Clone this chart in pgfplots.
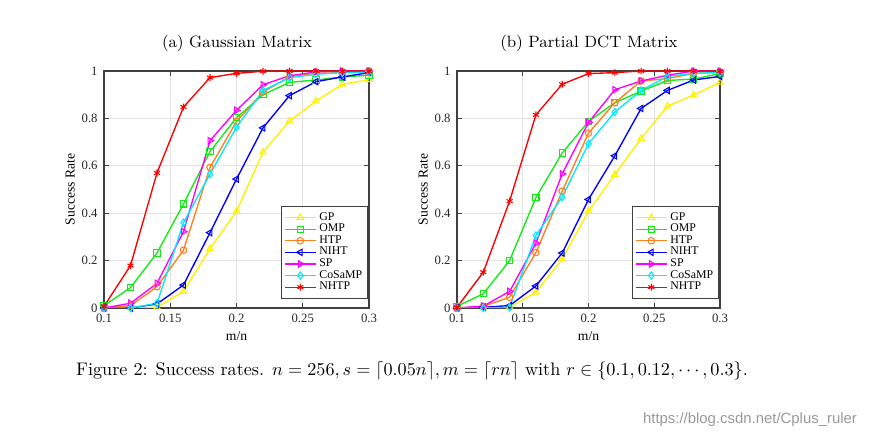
\documentclass[border=0pt]{standalone}
\usepackage{pgfplots}
\pgfplotsset{compat=1.18}
\usepackage{pgfplotstable}
\usepackage{fontspec}
\newfontfamily\tms{Liberation Serif}
\newfontfamily\wm{Liberation Sans}
\usetikzlibrary{plotmarks}

\definecolor{cGP}{RGB}{255,240,0}
\definecolor{cOMP}{RGB}{20,235,20}
\definecolor{cHTP}{RGB}{255,128,30}
\definecolor{cNIHT}{RGB}{0,0,255}
\definecolor{cSP}{RGB}{255,0,255}
\definecolor{cCo}{RGB}{0,235,255}
\definecolor{cNH}{RGB}{255,0,0}

\pgfplotstableread{
x    GP    OMP   HTP   NIHT  SP    Co    NH
0.10 0     0.010 0     0     0     0     0.007
0.12 0     0.086 0.010 0     0.020 0     0.179
0.14 0.003 0.232 0.090 0.017 0.104 0.020 0.570
0.16 0.070 0.439 0.244 0.097 0.322 0.360 0.848
0.18 0.250 0.660 0.593 0.318 0.706 0.565 0.972
0.20 0.408 0.803 0.787 0.544 0.834 0.763 0.990
0.22 0.658 0.900 0.911 0.760 0.942 0.918 0.999
0.24 0.789 0.952 0.975 0.896 0.980 0.972 1
0.26 0.873 0.962 0.990 0.955 0.996 0.986 1
0.28 0.944 0.975 0.993 0.975 1     0.993 1
0.30 0.963 0.982 1     0.993 1     0.996 1
}\dataA

\pgfplotstableread{
x    GP    OMP   HTP   NIHT  SP    Co    NH
0.10 0     0.007 0     0     0     0     0.003
0.12 0     0.060 0.007 0.003 0.008 0     0.151
0.14 0.003 0.200 0.045 0.010 0.070 0.003 0.451
0.16 0.066 0.466 0.234 0.093 0.273 0.306 0.815
0.18 0.207 0.654 0.493 0.232 0.566 0.468 0.944
0.20 0.408 0.787 0.738 0.458 0.783 0.693 0.989
0.22 0.563 0.866 0.866 0.642 0.921 0.827 0.993
0.24 0.715 0.915 0.958 0.842 0.958 0.918 1
0.26 0.851 0.960 0.968 0.918 0.982 0.977 1
0.28 0.899 0.966 0.990 0.962 1     0.990 1
0.30 0.952 0.989 0.994 0.977 1     0.994 1
}\dataB

\pgfplotsset{
  pGP/.style={color=cGP, line width=0.75pt, mark=triangle, mark size=2pt, mark options={solid, fill=none, line width=0.6pt}},
  pOMP/.style={color=cOMP, line width=0.75pt, mark=square, mark size=1.7pt, mark options={solid, fill=none, line width=0.6pt}},
  pHTP/.style={color=cHTP, line width=0.75pt, mark=o, mark size=1.8pt, mark options={solid, fill=none, line width=0.6pt}},
  pNIHT/.style={color=cNIHT, line width=0.75pt, mark=triangle, mark size=2pt, mark options={solid, fill=none, line width=0.6pt, rotate=90}},
  pSP/.style={color=cSP, line width=0.75pt, mark=triangle, mark size=2pt, mark options={solid, fill=none, line width=0.6pt, rotate=-90}},
  pCo/.style={color=cCo, line width=0.75pt, mark=diamond, mark size=2pt, mark options={solid, fill=none, line width=0.6pt}},
  pNH/.style={color=cNH, line width=0.75pt, mark=asterisk, mark size=1.9pt, mark options={solid, fill=none, line width=0.6pt}},
  sr/.style={
    scale only axis,
    height=130.35pt,
    xmin=0.1, xmax=0.3, ymin=0, ymax=1,
    xtick={0.1,0.15,0.2,0.25,0.3},
    xticklabels={0.1,0.15,0.2,0.25,0.3},
    ytick={0,0.2,0.4,0.6,0.8,1},
    yticklabels={0,0.2,0.4,0.6,0.8,1},
    tick align=inside,
    major tick length=2.5pt,
    tick style={black!75, line width=0.5pt},
    grid=major,
    major grid style={gray!22, line width=0.4pt},
    axis line style={black!75, line width=0.65pt},
    tick label style={font=\tms\fontsize{7}{8}\selectfont, black!85},
    label style={font=\tms\fontsize{7.5}{9}\selectfont},
    xlabel={m/n},
    ylabel={Success Rate},
    xlabel style={yshift=2pt},
    ylabel style={yshift=-3pt},
    legend style={at={(axis description cs:0.997,0.04)}, anchor=south east,
      font=\tms\fontsize{6.5}{7}\selectfont, draw=black!75, line width=0.5pt,
      inner sep=1.5pt, row sep=-2.6pt, fill=white,
      nodes={inner sep=1.6pt}},
    legend cell align=left,
    legend image post style={line width=0.75pt},
  }
}

\begin{document}
\begin{tikzpicture}
\path (0,0) rectangle (489.5pt,239.8pt);

\begin{axis}[sr, at={(57.2pt,70.4pt)}, anchor=south west, width=145.75pt]
\addplot[pGP] table[x=x,y=GP] {\dataA};
\addplot[pOMP] table[x=x,y=OMP] {\dataA};
\addplot[pHTP] table[x=x,y=HTP] {\dataA};
\addplot[pNIHT] table[x=x,y=NIHT] {\dataA};
\addplot[pSP] table[x=x,y=SP] {\dataA};
\addplot[pCo] table[x=x,y=Co] {\dataA};
\addplot[pNH] table[x=x,y=NH] {\dataA};
\legend{GP,OMP,HTP,NIHT,SP,CoSaMP,NHTP}
\end{axis}

\begin{axis}[sr, at={(251.35pt,70.4pt)}, anchor=south west, width=144.65pt]
\addplot[pGP] table[x=x,y=GP] {\dataB};
\addplot[pOMP] table[x=x,y=OMP] {\dataB};
\addplot[pHTP] table[x=x,y=HTP] {\dataB};
\addplot[pNIHT] table[x=x,y=NIHT] {\dataB};
\addplot[pSP] table[x=x,y=SP] {\dataB};
\addplot[pCo] table[x=x,y=Co] {\dataB};
\addplot[pNH] table[x=x,y=NH] {\dataB};
\legend{GP,OMP,HTP,NIHT,SP,CoSaMP,NHTP}
\end{axis}

\node[font=\fontsize{9}{11}\selectfont] at (130.35pt,216.15pt) {(a) Gaussian Matrix};
\node[font=\fontsize{9}{11}\selectfont] at (323.95pt,216.15pt) {(b) Partial DCT Matrix};
\node[font=\fontsize{10}{12}\selectfont] at (226.6pt,35.75pt) {Figure 2: Success rates. $n=256, s=\lceil 0.05n\rceil, m=\lceil rn\rceil$ with $r\in\{0.1,0.12,\cdots,0.3\}$.};
\node[font=\wm\fontsize{8.2}{10}\selectfont, text=black!40] at (412.5pt,8.8pt) {https://blog.csdn.net/Cplus\_ruler};
\end{tikzpicture}
\end{document}
